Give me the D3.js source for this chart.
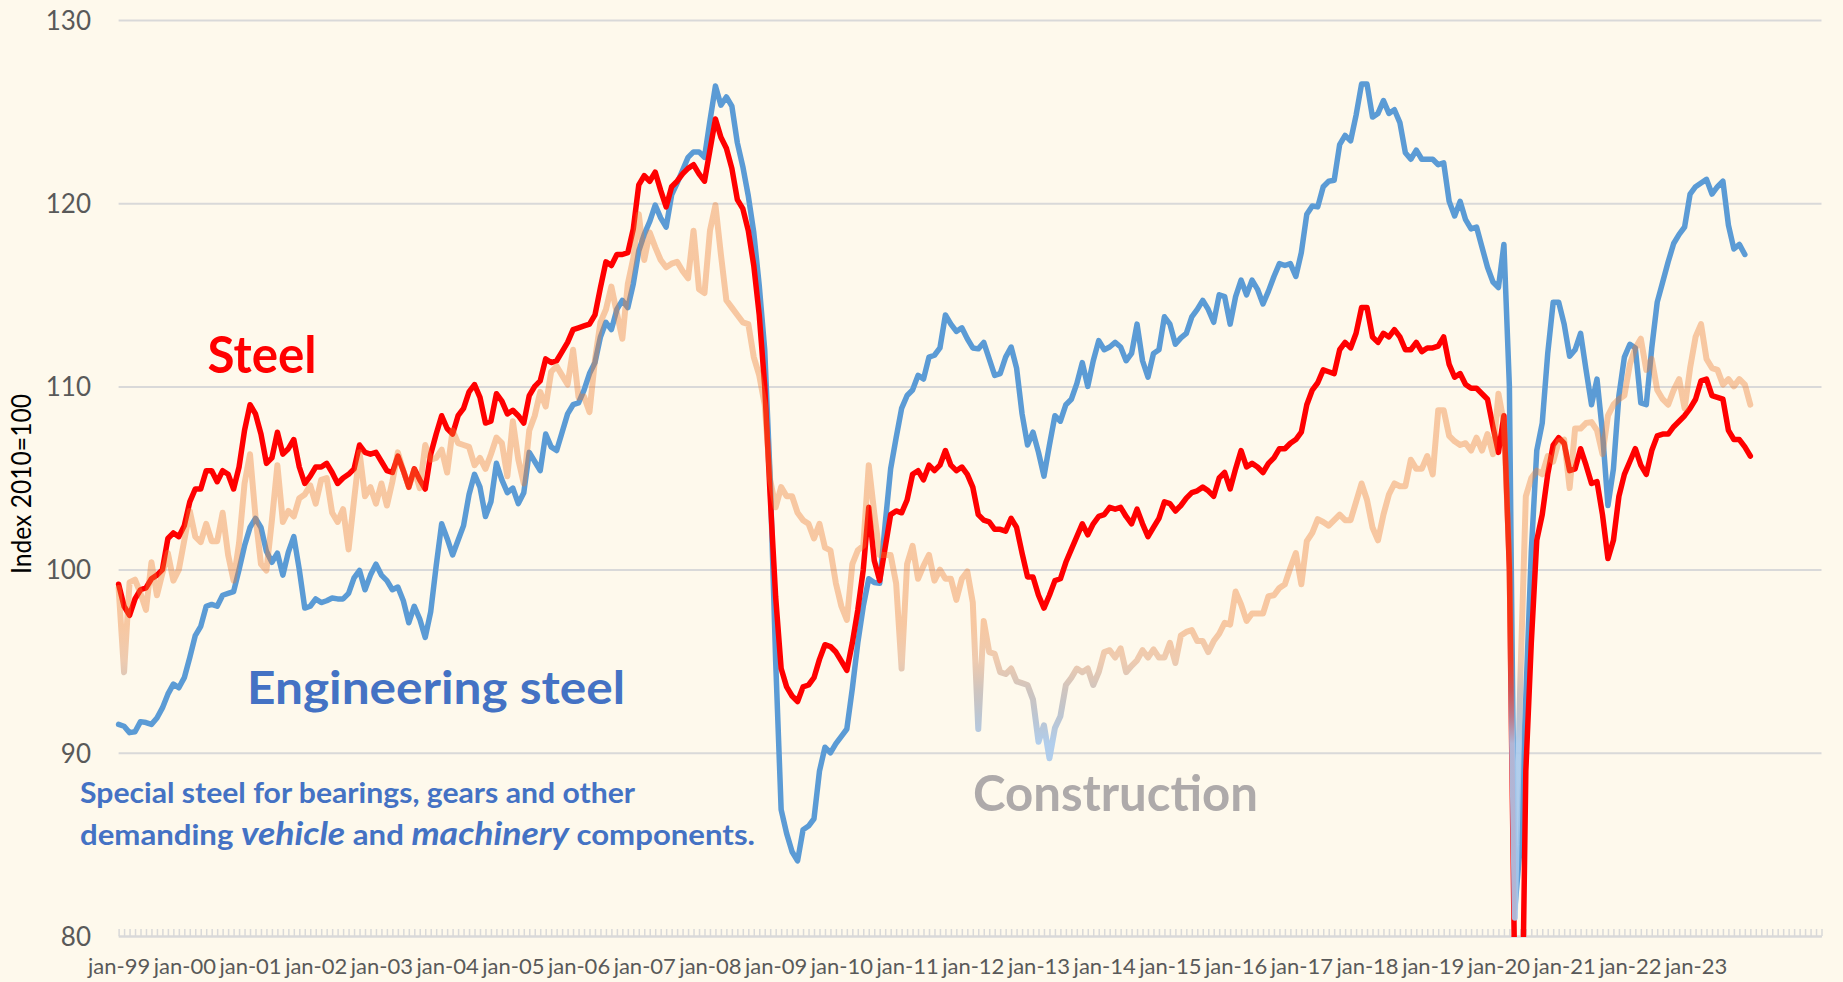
<!DOCTYPE html>
<html>
<head>
<meta charset="utf-8">
<script src="https://cdn.jsdelivr.net/npm/d3@7"></script>
<style>
  html, body { margin: 0; padding: 0; background: #fef9ec; }
  svg { display: block; font-family: "Lato", "Open Sans", sans-serif; }
</style>
</head>
<body>
<div id="chart"></div>
<script>
// monthly index values, 2010 = 100, starting jan-99
const steel = [
  99.2, 98.0, 97.5, 98.4, 98.9, 99.0, 99.5, 99.7, 100.0, 101.7,
  102.0, 101.8, 102.4, 103.7, 104.4, 104.4, 105.4, 105.4, 104.8, 105.4,
  105.2, 104.4, 105.6, 107.6, 109.0, 108.5, 107.4, 105.8, 106.1, 107.5,
  106.3, 106.6, 107.1, 105.6, 104.7, 105.1, 105.6, 105.6, 105.8, 105.3,
  104.7, 105.0, 105.2, 105.5, 106.8, 106.4, 106.3, 106.4, 105.9, 105.4,
  105.3, 106.2, 105.4, 104.5, 105.5, 104.9, 104.4, 106.3, 107.4, 108.4,
  107.7, 107.4, 108.4, 108.8, 109.7, 110.1, 109.4, 108.0, 108.1, 109.6,
  109.2, 108.5, 108.7, 108.4, 108.0, 109.5, 110.0, 110.3, 111.5, 111.3,
  111.4, 111.9, 112.4, 113.1, 113.2, 113.3, 113.4, 113.9, 115.4, 116.8,
  116.6, 117.2, 117.2, 117.3, 118.6, 121.0, 121.5, 121.2, 121.7, 120.7,
  119.8, 120.9, 121.2, 121.6, 121.9, 122.1, 121.6, 121.2, 122.9, 124.6,
  123.6, 123.0, 121.9, 120.2, 119.7, 118.5, 116.6, 113.9, 110.0, 104.0,
  98.5, 94.6, 93.6, 93.1, 92.8, 93.6, 93.7, 94.1, 95.1, 95.9,
  95.8, 95.5, 95.0, 94.5, 96.0, 97.8, 100.0, 103.4, 100.5, 99.4,
  101.2, 103.0, 103.2, 103.1, 103.8, 105.2, 105.4, 104.9, 105.7, 105.4,
  105.7, 106.5, 105.7, 105.4, 105.6, 105.2, 104.5, 103.0, 102.7, 102.6,
  102.2, 102.2, 102.1, 102.8, 102.3, 100.9, 99.6, 99.6, 98.6, 97.9,
  98.6, 99.4, 99.5, 100.4, 101.1, 101.8, 102.5, 101.9, 102.5, 102.9,
  103.0, 103.4, 103.3, 103.4, 102.9, 102.5, 103.3, 102.5, 101.8, 102.3,
  102.8, 103.7, 103.6, 103.2, 103.5, 103.9, 104.2, 104.3, 104.5, 104.3,
  104.0, 105.0, 105.3, 104.4, 105.5, 106.5, 105.6, 105.8, 105.6, 105.3,
  105.8, 106.1, 106.6, 106.6, 106.9, 107.1, 107.5, 109.0, 109.8, 110.2,
  110.9, 110.8, 110.7, 112.0, 112.4, 112.1, 112.9, 114.3, 114.3, 112.7,
  112.4, 112.9, 112.7, 113.1, 112.7, 112.0, 112.0, 112.4, 111.9, 112.1,
  112.1, 112.2, 112.7, 111.2, 110.5, 110.7, 110.1, 109.9, 109.9, 109.6,
  109.3, 107.8, 106.4, 108.4, 100.0, 77.0, 68.0, 89.0, 96.0, 101.6,
  103.0, 105.2, 106.8, 107.2, 106.9, 105.4, 105.5, 106.6, 105.7, 104.7,
  104.8, 103.0, 100.6, 101.6, 104.0, 105.2, 105.9, 106.6, 105.7, 105.2,
  106.5, 107.3, 107.4, 107.4, 107.8, 108.1, 108.4, 108.8, 109.3, 110.3,
  110.4, 109.5, 109.4, 109.3, 107.6, 107.1, 107.1, 106.7, 106.2
];

const engineeringSteel = [
  91.55, 91.45, 91.1, 91.15, 91.7, 91.65, 91.55, 91.9, 92.45, 93.2,
  93.75, 93.55, 94.1, 95.2, 96.4, 96.9, 98.0, 98.1, 98.0, 98.6,
  98.7, 98.8, 100.0, 101.3, 102.3, 102.8, 102.3, 101.0, 100.4, 100.9,
  99.7, 100.95, 101.8, 100.0, 97.9, 98.0, 98.4, 98.2, 98.3, 98.45,
  98.4, 98.4, 98.7, 99.55, 99.95, 98.9, 99.7, 100.3, 99.7, 99.4,
  98.9, 99.05, 98.3, 97.1, 98.0, 97.3, 96.3, 97.7, 100.2, 102.5,
  101.7, 100.8, 101.6, 102.4, 104.1, 105.2, 104.5, 102.9, 103.7, 105.8,
  104.9, 104.2, 104.45, 103.6, 104.2, 106.4, 105.9, 105.4, 107.4, 106.7,
  106.5, 107.5, 108.5, 109.0, 109.1, 109.8, 110.7, 111.3, 112.7, 113.5,
  113.1, 114.2, 114.7, 114.3, 115.6, 117.4, 118.3, 119.0, 119.9, 119.2,
  118.7, 120.45, 121.1, 121.8, 122.5, 122.8, 122.8, 122.5, 124.5, 126.4,
  125.35, 125.8, 125.3, 123.3, 122.0, 120.4, 118.4, 115.5, 112.0, 105.0,
  95.0, 86.9, 85.6, 84.6, 84.1, 85.8, 86.0, 86.4, 89.0, 90.3,
  90.0, 90.5, 90.9, 91.3, 93.5, 96.0, 98.0, 99.5, 99.3, 99.25,
  102.5, 105.5, 107.2, 108.8, 109.5, 109.8, 110.6, 110.4, 111.6, 111.7,
  112.1, 113.9, 113.4, 113.0, 113.2, 112.6, 112.1, 112.05, 112.4, 111.5,
  110.6, 110.7, 111.6, 112.15, 111.0, 108.5, 106.8, 107.5, 106.4, 105.1,
  106.8, 108.4, 108.1, 109.0, 109.3, 110.15, 111.3, 110.0, 111.4, 112.5,
  112.0, 112.15, 112.4, 112.15, 111.4, 111.8, 113.4, 111.4, 110.5, 111.8,
  112.0, 113.8, 113.4, 112.3, 112.65, 112.9, 113.8, 114.2, 114.7, 114.2,
  113.5, 115.0, 114.9, 113.4, 114.9, 115.8, 115.0, 115.8, 115.3, 114.5,
  115.2, 116.0, 116.7, 116.6, 116.7, 116.0, 117.3, 119.4, 119.85, 119.8,
  120.9, 121.2, 121.25, 123.2, 123.7, 123.4, 124.8, 126.5, 126.5, 124.7,
  124.9, 125.6, 124.9, 125.1, 124.4, 122.75, 122.4, 122.9, 122.4, 122.4,
  122.4, 122.1, 122.2, 120.1, 119.3, 120.1, 119.1, 118.6, 118.7, 117.6,
  116.5, 115.7, 115.4, 117.75, 110.0, 81.5, 85.0, 93.0, 101.0, 106.5,
  108.0, 111.8, 114.6, 114.6, 113.4, 111.65, 112.0, 112.9, 110.9, 109.0,
  110.4, 107.5, 103.5, 105.5, 109.5, 111.6, 112.3, 112.1, 109.1, 109.0,
  112.1, 114.6, 115.7, 116.8, 117.8, 118.3, 118.7, 120.5, 120.9, 121.1,
  121.3, 120.5, 120.9, 121.2, 118.8, 117.5, 117.75, 117.2
];

const construction = [
  99.0, 94.4, 99.3, 99.45, 98.7, 97.8, 100.4, 98.6, 99.8, 100.9,
  99.4, 100.0, 101.6, 103.2, 101.8, 101.5, 102.5, 101.55, 101.55, 103.1,
  100.8, 99.4, 101.45, 104.7, 106.3, 102.9, 100.3, 99.95, 102.7, 105.7,
  102.6, 103.2, 102.9, 103.9, 104.1, 104.6, 103.6, 104.9, 105.0, 103.1,
  102.6, 103.3, 101.1, 103.8, 106.4, 104.0, 104.5, 103.6, 104.7, 103.5,
  104.8, 106.4, 105.4, 104.5, 105.45, 104.45, 106.8, 106.0, 106.1, 106.55,
  105.3, 107.6, 106.9, 106.8, 106.7, 105.7, 106.1, 105.5, 106.3, 107.2,
  106.9, 105.1, 108.1, 106.0, 104.7, 107.6, 108.4, 109.7, 108.9, 110.8,
  111.1, 110.6, 110.1, 112.0, 109.4, 109.45, 108.6, 111.45, 113.5, 114.2,
  115.45, 114.0, 112.6, 115.6, 117.0, 119.4, 116.9, 118.4, 117.6, 116.9,
  116.5, 116.7, 116.8, 116.3, 115.9, 118.5, 115.3, 115.1, 118.5, 119.9,
  117.2, 114.7, 114.3, 113.9, 113.5, 113.4, 111.6, 110.6, 109.0, 104.9,
  103.4, 104.5, 104.0, 104.0, 103.1, 102.7, 102.5, 101.7, 102.5, 101.2,
  101.05, 99.25, 98.0, 97.25, 100.3, 101.05, 101.3, 105.7, 103.1, 100.8,
  100.8, 100.8, 99.25, 94.6, 100.3, 101.3, 99.5, 100.2, 100.8, 99.4,
  100.0, 99.5, 99.5, 98.35, 99.5, 99.9, 98.2, 91.3, 97.2, 95.5,
  95.4, 94.4, 94.3, 94.6, 93.9, 93.8, 93.7, 92.9, 90.6, 91.5,
  89.7, 91.35, 92.0, 93.7, 94.1, 94.6, 94.4, 94.6, 93.7, 94.4,
  95.5, 95.6, 95.2, 95.7, 94.4, 94.75, 95.05, 95.6, 95.2, 95.65,
  95.2, 95.2, 96.0, 94.9, 96.4, 96.6, 96.7, 96.1, 96.1, 95.5,
  96.1, 96.5, 97.1, 97.0, 98.8, 98.1, 97.2, 97.6, 97.6, 97.6,
  98.55, 98.6, 99.0, 99.2, 100.1, 100.9, 99.2, 101.55, 102.0, 102.75,
  102.6, 102.4, 102.7, 103.0, 102.7, 102.7, 103.7, 104.7, 103.8, 102.3,
  101.6, 103.0, 104.1, 104.7, 104.55, 104.55, 106.0, 105.5, 105.5, 106.2,
  105.2, 108.7, 108.7, 107.3, 107.0, 106.8, 106.9, 106.5, 107.2, 106.5,
  107.4, 106.3, 109.6, 108.0, 100.5, 81.0, 94.0, 104.0, 105.0, 105.4,
  105.2, 106.2, 105.9, 107.0, 107.1, 104.45, 107.7, 107.7, 108.0, 108.05,
  107.6, 106.3, 108.4, 109.0, 109.3, 109.5, 111.2, 112.1, 112.6, 110.9,
  111.5, 109.8, 109.3, 109.0, 109.8, 110.4, 108.8, 111.0, 112.7, 113.4,
  111.5, 111.0, 110.9, 110.1, 110.4, 110.0, 110.4, 110.1, 109.0
];

const yearLabels = [
  "jan-99", "jan-00", "jan-01", "jan-02", "jan-03", "jan-04", "jan-05",
  "jan-06", "jan-07", "jan-08", "jan-09", "jan-10", "jan-11", "jan-12",
  "jan-13", "jan-14", "jan-15", "jan-16", "jan-17", "jan-18", "jan-19",
  "jan-20", "jan-21", "jan-22", "jan-23"
];
const yTicks = [80, 90, 100, 110, 120, 130];
const monthCount = 312; // category axis runs jan-99 .. dec-24

const width = 1843;
const height = 982;

const x = d3.scaleLinear().domain([0, monthCount - 1]).range([118.6, 1821.5]);
const y = d3.scaleLinear().domain([80, 130]).range([936, 20]);

const svg = d3
  .select("#chart")
  .append("svg")
  .attr("width", width)
  .attr("height", height);

svg.append("rect").attr("width", width).attr("height", height).attr("fill", "#fef9ec");

const defs = svg.append("defs");
defs
  .append("clipPath")
  .attr("id", "plot-clip")
  .append("rect")
  .attr("x", 0)
  .attr("y", 0)
  .attr("width", width)
  .attr("height", y(80) + 1);

// construction line fades from orange to grey to light blue when it gets low
const grad = defs
  .append("linearGradient")
  .attr("id", "construction-grad")
  .attr("gradientUnits", "userSpaceOnUse")
  .attr("x1", 0)
  .attr("x2", 0)
  .attr("y1", y(97))
  .attr("y2", y(90.5));
[
  [0, "#ED7D31", 0.4],
  [0.3, "#D88C5E", 0.42],
  [0.55, "#A89A9A", 0.55],
  [0.78, "#9FB0C8", 0.7],
  [1, "#A9C9EC", 0.9],
].forEach(([o, c, a]) => {
  grad.append("stop").attr("offset", o).attr("stop-color", c).attr("stop-opacity", a);
});

// gridlines
const grid = svg
  .append("g")
  .attr("transform", `translate(${x(0)},0)`)
  .call(
    d3.axisLeft(y)
      .tickValues(yTicks)
      .tickSize(-(x(monthCount - 1) - x(0)))
      .tickFormat("")
  );
grid.select(".domain").remove();
grid.selectAll("line").attr("stroke", "#d9d9d9").attr("stroke-width", 2);

// y labels
const yAxis = svg
  .append("g")
  .attr("transform", `translate(${x(0)},0)`)
  .call(d3.axisLeft(y).tickValues(yTicks).tickSize(0).tickPadding(27.6));
yAxis.select(".domain").remove();
yAxis
  .selectAll("text")
  .attr("dy", "0.36em")
  .attr("fill", "#595959")
  .style("font-size", "26px")
  .style("font-family", "Lato, 'Open Sans', sans-serif");

// monthly tick marks on the category axis
const monthAxis = svg
  .append("g")
  .attr("transform", `translate(0,${y(80)})`)
  .call(
    d3.axisBottom(x)
      .tickValues(d3.range(monthCount))
      .tickSize(-7)
      .tickSizeOuter(0)
      .tickFormat("")
  );
monthAxis.select(".domain").attr("stroke", "#d9d9d9").attr("stroke-width", 2);
monthAxis.selectAll("line").attr("stroke", "#d9d9d9").attr("stroke-width", 1.5);

// year labels
const xAxis = svg
  .append("g")
  .attr("transform", `translate(0,${y(80)})`)
  .call(
    d3.axisBottom(x)
      .tickValues(yearLabels.map((d, i) => i * 12))
      .tickSize(0)
      .tickPadding(22)
      .tickFormat((d) => yearLabels[d / 12])
  );
xAxis.select(".domain").remove();
xAxis
  .selectAll("text")
  .attr("fill", "#595959")
  .style("font-size", "22px")
  .style("font-family", "Lato, 'Open Sans', sans-serif");

// y axis title
svg
  .append("text")
  .attr("transform", "translate(31,484) rotate(-90)")
  .attr("text-anchor", "middle")
  .attr("fill", "#000")
  .style("font-size", "27px")
  .attr("textLength", 180)
  .attr("lengthAdjust", "spacingAndGlyphs")
  .text("Index 2010=100");

const line = d3
  .line()
  .x((d, i) => x(i))
  .y((d) => y(d));

const lines = svg.append("g").attr("clip-path", "url(#plot-clip)");

lines
  .append("path")
  .datum(engineeringSteel)
  .attr("fill", "none")
  .attr("stroke", "#5B9BD5")
  .attr("stroke-width", 5.5)
  .attr("stroke-linejoin", "round")
  .attr("stroke-linecap", "round")
  .attr("d", line);

lines
  .append("path")
  .datum(steel)
  .attr("fill", "none")
  .attr("stroke", "#FF0000")
  .attr("stroke-width", 5.5)
  .attr("stroke-linejoin", "round")
  .attr("stroke-linecap", "round")
  .attr("d", line);

lines
  .append("path")
  .datum(construction)
  .attr("fill", "none")
  .attr("stroke", "url(#construction-grad)")
  .attr("stroke-width", 6)
  .attr("stroke-linejoin", "round")
  .attr("stroke-linecap", "round")
  .attr("d", line);

// annotations
const label = (txt, px, py, size, color, len) =>
  svg
    .append("text")
    .attr("x", px)
    .attr("y", py)
    .attr("fill", color)
    .style("font-size", size + "px")
    .style("font-weight", "bold")
    .attr("textLength", len)
    .attr("lengthAdjust", "spacingAndGlyphs")
    .text(txt);

label("Steel", 207.6, 373, 51, "#FF0000", 109);
label("Engineering steel", 247, 704, 46, "#4472C4", 378);
label("Construction", 973, 811, 49, "#AEAAAA", 285);
label("Special steel for bearings, gears and other", 80, 803, 28, "#4472C4", 555);

const note = svg
  .append("text")
  .attr("x", 80)
  .attr("y", 845)
  .attr("fill", "#4472C4")
  .style("font-size", "28px")
  .style("font-weight", "bold")
  .attr("textLength", 675)
  .attr("lengthAdjust", "spacingAndGlyphs");
note.append("tspan").text("demanding ");
note.append("tspan").style("font-style", "italic").style("font-size", "32px").text("vehicle");
note.append("tspan").text(" and ");
note.append("tspan").style("font-style", "italic").style("font-size", "32px").text("machinery");
note.append("tspan").text(" components.");
</script>
</body>
</html>
